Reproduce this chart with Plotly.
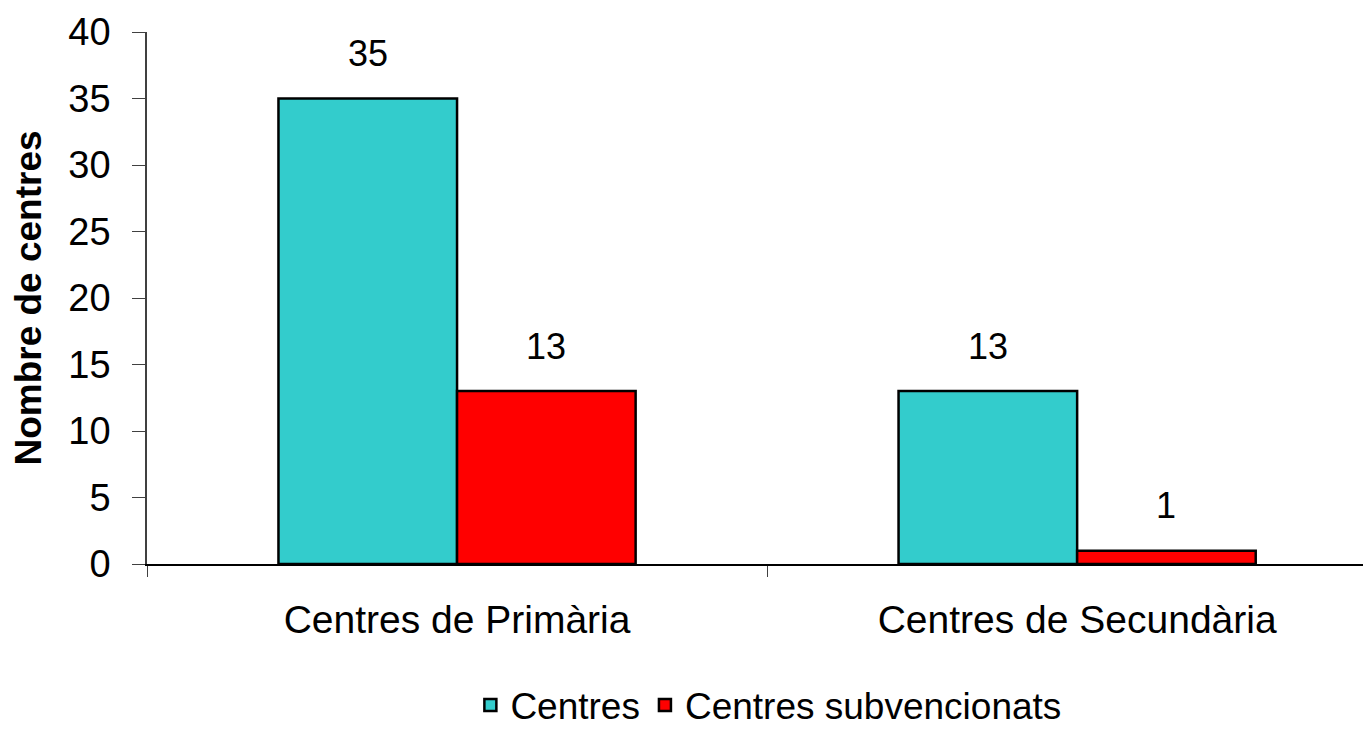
import plotly.graph_objects as go

categories = ["Centres de Primària", "Centres de Secundària"]
series_names = ["Centres", "Centres subvencionats"]
centres = [35, 13]
subvencionats = [13, 1]
y_ticks = [0, 5, 10, 15, 20, 25, 30, 35, 40]

FONT = "Liberation Sans, Arial, sans-serif"
colors = ["#33CCCC", "#FF0000"]

fig = go.Figure()
for name, vals, col in zip(series_names, [centres, subvencionats], colors):
    fig.add_trace(go.Bar(
        x=categories, y=vals, name=name,
        marker=dict(color=col, line=dict(color="black", width=2.5)),
    ))

# value labels above bars
half = 89
for i, (name, vals) in enumerate(zip(series_names, [centres, subvencionats])):
    shift = -half if i == 0 else half
    for c, v in zip(categories, vals):
        fig.add_annotation(
            x=c, y=v, xref="x", yref="y", text=str(v), showarrow=False,
            xshift=shift, yshift=45, yanchor="middle",
            font=dict(family=FONT, size=36, color="black"),
        )

fig.update_layout(
    width=1355, height=723,
    paper_bgcolor="white", plot_bgcolor="white",
    margin=dict(l=139, r=0, t=24, b=167, autoexpand=False),
    barmode="group", bargap=0.424, bargroupgap=0,
    font=dict(family=FONT, color="black"),
    showlegend=True,
    legend=dict(
        orientation="h", x=0.511, xref="paper", xanchor="center",
        y=-0.266, yanchor="middle",
        font=dict(family=FONT, size=37, color="black"),
    ),
    xaxis=dict(
        type="category", range=[-0.5, 1.461],
        showline=True, linecolor="black", linewidth=1.5,
        ticks="outside", tickson="boundaries", ticklen=11, tickcolor="#404040",
        tickfont=dict(family=FONT, size=39, color="black"),
        showgrid=False, zeroline=False, automargin=False,
        ticklabelstandoff=20,
    ),
    yaxis=dict(
        range=[0, 40], tickvals=y_ticks,
        showline=True, linecolor="#404040", linewidth=1.5,
        ticks="outside", ticklen=13, tickcolor="#404040",
        tickfont=dict(family=FONT, size=38, color="black"),
        ticklabelstandoff=14, automargin=False,
        showgrid=False, zeroline=False,
        title=dict(text="<b>Nombre de centres</b>", font=dict(family=FONT, size=37, color="black"), standoff=28),
    ),
)

fig.write_html("out.html")
